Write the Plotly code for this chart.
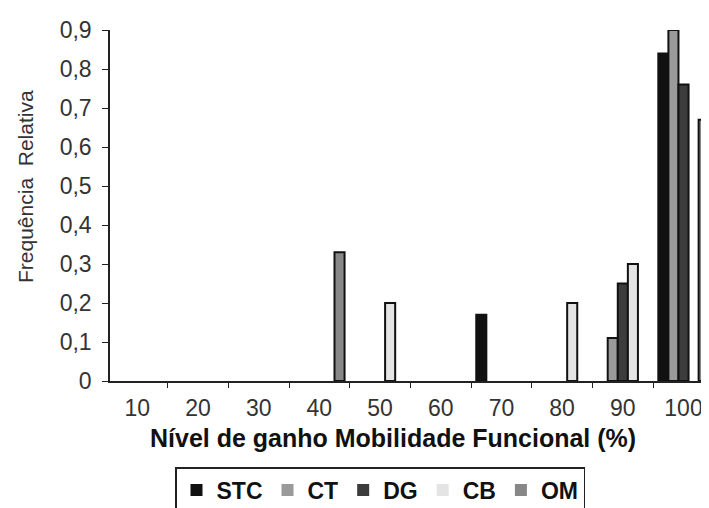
import plotly.graph_objects as go

categories = ["10", "20", "30", "40", "50", "60", "70", "80", "90", "100"]
series_names = ["STC", "CT", "DG", "CB", "OM"]
stc = [0, 0, 0, 0, 0, 0, 0.17, 0, 0, 0.84]
ct = [0, 0, 0, 0, 0, 0, 0, 0, 0.11, 0.90]
dg = [0, 0, 0, 0, 0, 0, 0, 0, 0.25, 0.76]
cb = [0, 0, 0, 0, 0.20, 0, 0, 0.20, 0.30, 0]
om = [0, 0, 0, 0.33, 0, 0, 0, 0, 0, 0.67]
y_ticks = [0, 0.1, 0.2, 0.3, 0.4, 0.5, 0.6, 0.7, 0.8, 0.9]
y_tick_text = ["0", "0,1", "0,2", "0,3", "0,4", "0,5", "0,6", "0,7", "0,8", "0,9"]
x_title = "Nível de ganho Mobilidade Funcional (%)"
y_title = "Frequência  Relativa"

colors = ["#111111", "#9a9a9a", "#3c3c3c", "#e4e4e4", "#878787"]
values = [stc, ct, dg, cb, om]

FONT = "Liberation Sans, Arial, sans-serif"
TXT = "#222222"

# page body adds an 8px offset; the figure is sized to fit the window
W, H = 701, 500
L, T, B = 102, 22, 127

fig = go.Figure()
for name, vals, col in zip(series_names, values, colors):
    fig.add_trace(go.Bar(
        x=categories, y=vals, name=name,
        marker=dict(color=col,
                    line=dict(color="#111111",
                              width=[2 if v > 0 else 0 for v in vals])),
        cliponaxis=False,
    ))

pw = W - L
ph = H - T - B

fig.update_layout(
    width=W, height=H,
    margin=dict(l=L, r=0, t=T, b=B, autoexpand=False),
    paper_bgcolor="white", plot_bgcolor="white",
    barmode="group", bargap=0.17, bargroupgap=0,
    font=dict(family=FONT, color=TXT, size=22),
    showlegend=True,
    legend=dict(
        orientation="h", xref="container", yref="container",
        x=167 / W, xanchor="left", y=(H - 459) / H, yanchor="top",
        bordercolor="#222222", borderwidth=1.5, bgcolor="white",
        font=dict(family=FONT, size=23, color="#111111", weight="bold"),
        itemwidth=30,
        traceorder="normal",
    ),
    xaxis=dict(
        type="category", categoryorder="array", categoryarray=categories,
        range=[-0.45, 9.42],
        showline=True, linecolor="#222222", linewidth=1.8,
        ticks="outside", ticklen=5, tickcolor="#222222", tickwidth=1.2,
        tickson="boundaries", ticklabelstandoff=5,
        tickfont=dict(size=23, color="#333333"),
        showgrid=False, zeroline=False,
    ),
    yaxis=dict(
        range=[0, 0.9],
        tickvals=y_ticks, ticktext=y_tick_text,
        showline=True, linecolor="#222222", linewidth=1.5,
        ticks="outside", ticklen=6, tickcolor="#222222", tickwidth=1.2,
        ticklabelstandoff=6,
        tickfont=dict(size=23, color="#333333"),
        showgrid=False, zeroline=False,
    ),
    annotations=[
        dict(text="<b>" + x_title + "</b>", xref="paper", yref="paper",
             x=(385 - L) / pw, y=(373 - 430) / ph,
             xanchor="center", yanchor="middle", showarrow=False,
             font=dict(size=25, color="#111111")),
        dict(text=y_title, xref="paper", yref="paper",
             x=(17 - L) / pw, y=(373 - 179) / ph, textangle=-90,
             xanchor="center", yanchor="middle", showarrow=False,
             font=dict(size=21, color="#333333")),
    ],
)

fig.write_html("out.html")
